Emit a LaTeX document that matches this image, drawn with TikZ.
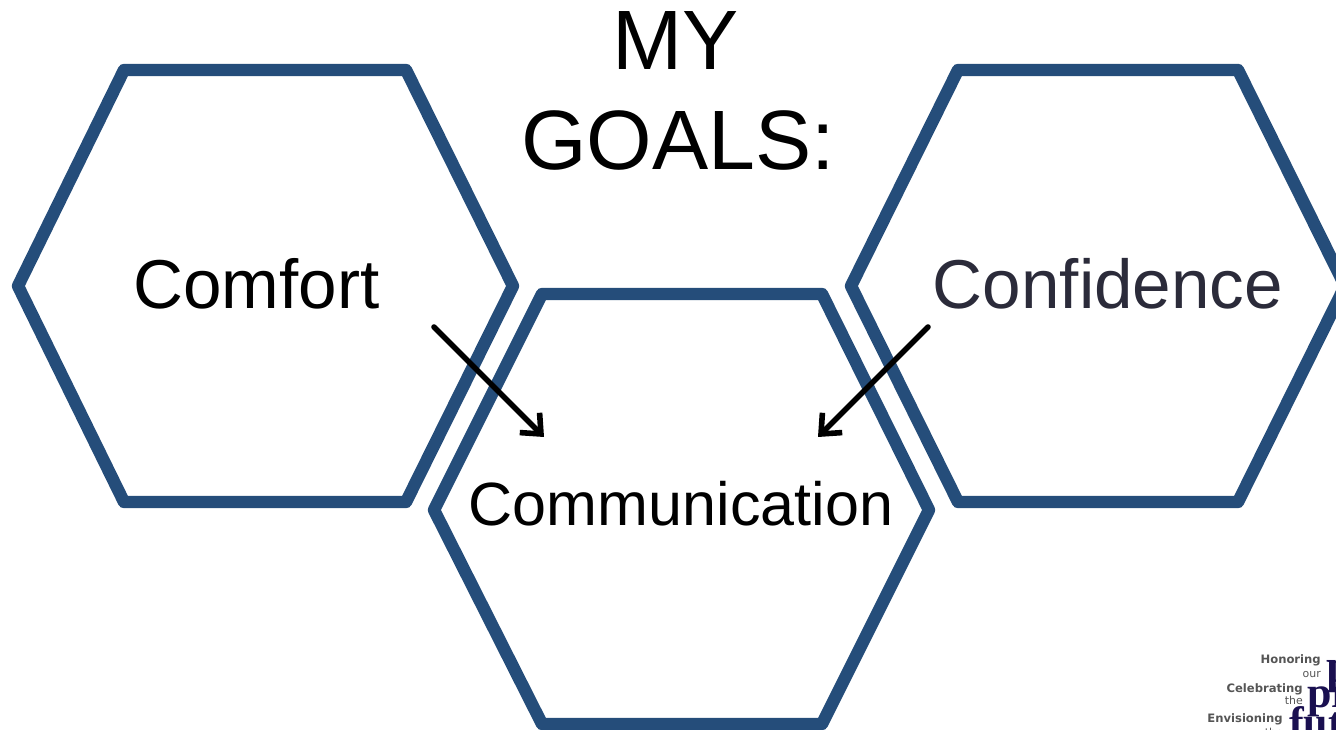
\documentclass[tikz,border=0pt]{standalone}
\usepackage{fontspec}
\setmainfont{Liberation Sans}
\usetikzlibrary{arrows.meta}
\definecolor{hexblue}{HTML}{254D7A}
\definecolor{confcol}{HTML}{2B2B3A}
\definecolor{logogray}{HTML}{555555}
\definecolor{logonavy}{HTML}{1A1050}
\newfontfamily\slabfont{Liberation Serif}
\newfontfamily\logofont{DejaVu Sans}
\begin{document}
\begin{tikzpicture}[x=0.75pt,y=-0.75pt,
  hexline/.style={draw=hexblue,line width=9.3pt,line join=round},
  title/.style={anchor=base,font=\fontsize{63.2}{70}\selectfont,inner sep=0pt},
  biglabel/.style={anchor=base,font=\fontsize{51.9}{60}\selectfont,inner sep=0pt},
  midlabel/.style={anchor=base,font=\fontsize{45.8}{55}\selectfont,inner sep=0pt},
  goalarrow/.style={draw=black,line width=4.2pt,line cap=round,-{Straight Barb[length=12pt,width=21pt,line width=4.2pt]}},
  logosmall/.style={anchor=base east,inner sep=0pt,text=logogray,font=\logofont\fontsize{8.2}{10}\selectfont},
  logobold/.style={logosmall,font=\logofont\bfseries\fontsize{8.7}{10}\selectfont},
  logobig/.style={anchor=base west,inner sep=0pt,text=logonavy}
]
\useasboundingbox (0,0) rectangle (1336,730);
\clip (0,0) rectangle (1336,730);
\draw[hexline] (124,70) -- (406,70) -- (513,286) -- (406,502) -- (124,502) -- (18,286) -- cycle;
\draw[hexline] (958,70) -- (1238,70) -- (1345,286) -- (1238,502) -- (958,502) -- (851,286) -- cycle;
\draw[hexline] (542,294) -- (822,294) -- (929,510) -- (822,724) -- (542,724) -- (434,510) -- cycle;
\node[title] (my) at (676,70) {MY};
\node[title] (goals) at (678,170) {GOALS:};
\node[biglabel] (comfort) at (256.5,309) {Comfort};
\node[biglabel,text=confcol] (confidence) at (1108,309) {Confidence};
\node[midlabel] (communication) at (681,526) {Communication};
\coordinate (a1) at (434,327);
\coordinate (a2) at (544,437);
\coordinate (b1) at (928,327);
\coordinate (b2) at (818,437);
\draw[goalarrow] (a1) -- (a2);
\draw[goalarrow] (b1) -- (b2);
\node[logobold] (hon) at (1321,664) {Honoring};
\node[logosmall] (our) at (1321,677) {our};
\node[logobold] (cel) at (1303,693) {Celebrating};
\node[logosmall] (the1) at (1303,705) {the};
\node[logobold] (env) at (1283,723) {Envisioning};
\node[logosmall] (the2) at (1283,736) {the};
\node[logobig,font=\slabfont\bfseries\fontsize{36}{36}\selectfont] (past) at (1326,682) {past};
\node[logobig,font=\slabfont\bfseries\fontsize{33}{33}\selectfont] (present) at (1307,708) {present};
\node[logobig,font=\slabfont\bfseries\fontsize{33}{33}\selectfont] (future) at (1289,738) {future};
\end{tikzpicture}
\end{document}
